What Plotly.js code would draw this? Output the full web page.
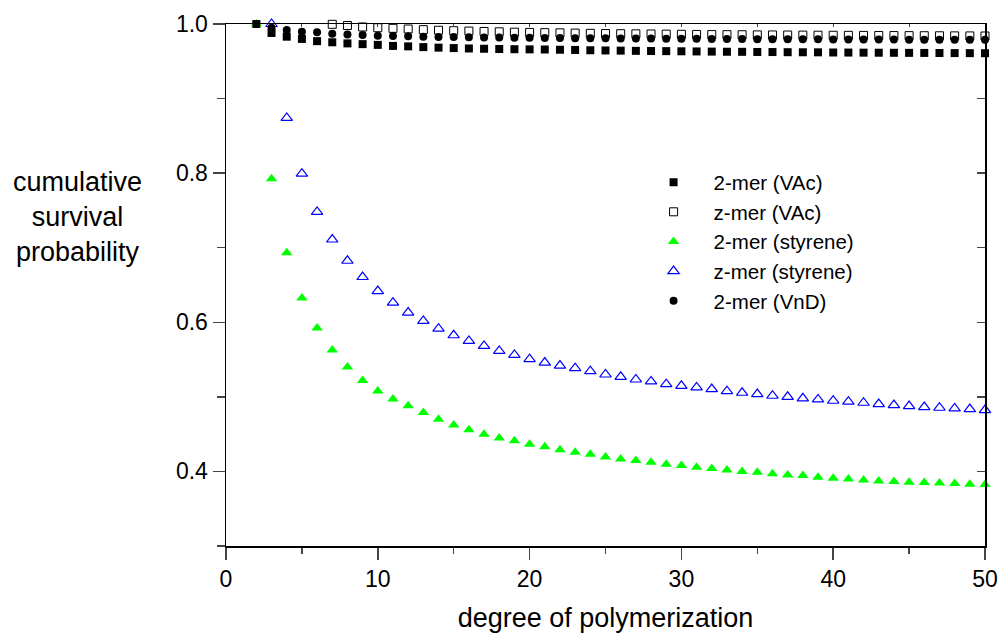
<!DOCTYPE html>
<html>
<head>
<meta charset="utf-8">
<script src="https://cdn.plot.ly/plotly-3.0.1.min.js"></script>
<style>html,body{margin:0;padding:0;background:#fff;}#chart{width:998px;height:633px;}</style>
</head>
<body>
<div id="chart"></div>
<script>
// degree of polymerization
const xFrom2 = [2,3,4,5,6,7,8,9,10,11,12,13,14,15,16,17,18,19,20,21,22,23,24,25,26,27,28,29,30,31,32,33,34,35,36,37,38,39,40,41,42,43,44,45,46,47,48,49,50];
const xFrom3 = xFrom2.slice(1);
const xFrom7 = xFrom2.slice(5);

const twoMerVAc = [1.000,0.988,0.983,0.980,0.977,0.9755,0.974,0.973,0.972,0.9706,0.970,0.9690,0.9683,0.9677,0.9672,0.9668,0.9665,0.9662,0.9660,0.9658,0.9655,0.9652,0.9648,0.9645,0.9643,0.9640,0.9638,0.9636,0.9634,0.9632,0.9630,0.9628,0.9627,0.9625,0.9624,0.9622,0.9621,0.9620,0.9618,0.9617,0.9616,0.9615,0.9614,0.9613,0.9612,0.9611,0.9610,0.9609,0.9608];

const zMerVAc = [0.9996,0.998,0.996,0.995,0.9942,0.9933,0.9924,0.9916,0.991,0.9905,0.990,0.9895,0.989,0.9887,0.9884,0.9881,0.9878,0.9875,0.9872,0.987,0.9868,0.9866,0.9864,0.9862,0.986,0.9858,0.9857,0.9856,0.9854,0.9853,0.9852,0.9851,0.985,0.9849,0.9848,0.9847,0.9846,0.9845,0.9844,0.9843,0.9842,0.9841,0.984,0.9839];

const twoMerStyrene = [1.0,0.7926,0.6932,0.6326,0.5924,0.563,0.540,0.522,0.508,0.497,0.488,0.479,0.470,0.4622,0.456,0.450,0.4448,0.4412,0.4363,0.4332,0.4292,0.4256,0.423,0.4194,0.4167,0.4145,0.4123,0.4096,0.4078,0.4056,0.4038,0.402,0.3998,0.399,0.397,0.3953,0.3944,0.3922,0.3909,0.39,0.3886,0.3873,0.3864,0.3855,0.385,0.3846,0.3837,0.3829,0.3824];

const zMerStyrene = [1.0,0.874,0.7993,0.748,0.711,0.6825,0.6607,0.6419,0.6263,0.613,0.6018,0.5915,0.5826,0.575,0.5683,0.5616,0.5563,0.5505,0.546,0.542,0.5385,0.5344,0.530,0.5269,0.5233,0.5207,0.517,0.5148,0.5126,0.5104,0.5077,0.5055,0.5037,0.5015,0.5001,0.498,0.4966,0.4948,0.4935,0.4921,0.4903,0.489,0.4876,0.4863,0.4854,0.4845,0.4836,0.4823];

const twoMerVnD = [1.0,0.995,0.992,0.9897,0.9888,0.987,0.986,0.9853,0.9844,0.984,0.9835,0.983,0.9827,0.9824,0.9822,0.982,0.9818,0.9816,0.9814,0.9812,0.9811,0.981,0.9809,0.9808,0.9806,0.9805,0.9804,0.9803,0.9802,0.9801,0.98,0.9799,0.9798,0.9797,0.9796,0.9795,0.9795,0.9794,0.9793,0.9793,0.9792,0.9791,0.9791,0.979,0.979,0.9789,0.9789,0.9788,0.9788];

const seriesNames = ['2-mer (VAc)','z-mer (VAc)','2-mer (styrene)','z-mer (styrene)','2-mer (VnD)'];
const xTickVals = [0,10,20,30,40,50];
const yTickVals = [0.4,0.6,0.8,1.0];

const FONT = '"Liberation Sans", Arial, Helvetica, sans-serif';

const traces = [
  {x: xFrom2, y: twoMerVAc, name: seriesNames[0], type: 'scatter', mode: 'markers', cliponaxis: false,
   marker: {symbol: 'square', size: 8, color: '#000000', line: {width: 0}}},
  {x: xFrom7, y: zMerVAc, name: seriesNames[1], type: 'scatter', mode: 'markers', cliponaxis: false,
   marker: {symbol: 'square-open', size: 8, color: '#000000', line: {width: 1, color: '#000000'}}},
  {x: xFrom2, y: twoMerStyrene, name: seriesNames[2], type: 'scatter', mode: 'markers', cliponaxis: false,
   marker: {symbol: 'triangle-up', size: 10, color: '#00ff00', line: {width: 0}}},
  {x: xFrom3, y: zMerStyrene, name: seriesNames[3], type: 'scatter', mode: 'markers', cliponaxis: false,
   marker: {symbol: 'triangle-up-open', size: 10, color: '#0000ff', line: {width: 1.2, color: '#0000ff'}}},
  {x: xFrom2, y: twoMerVnD, name: seriesNames[4], type: 'scatter', mode: 'markers', cliponaxis: false,
   marker: {symbol: 'circle', size: 8, color: '#000000', line: {width: 0}}},
  {x: [], y: [], xaxis: 'x2', yaxis: 'y2', showlegend: false, hoverinfo: 'skip', type: 'scatter', mode: 'markers'}
];

const layout = {
  width: 998, height: 633,
  margin: {l: 226, r: 13, t: 24, b: 87},
  paper_bgcolor: '#ffffff', plot_bgcolor: '#ffffff',
  font: {family: FONT, color: '#000000', size: 20},
  showlegend: true,
  legend: {x: 0.537, y: 0.735, xanchor: 'left', yanchor: 'top', bgcolor: 'rgba(0,0,0,0)', itemwidth: 70,
           font: {family: FONT, size: 20.5, color: '#000000'}},
  xaxis: {range: [0, 50], tickvals: xTickVals, ticks: 'outside', ticklen: 12, tickwidth: 1.5,
          showline: true, linewidth: 1.5, linecolor: '#000', showgrid: false, zeroline: false,
          tickfont: {family: FONT, size: 23, color: '#000'},
          minor: {dtick: 5, ticks: 'outside', ticklen: 6, tickwidth: 1.5, showgrid: false},
          title: {text: 'degree of polymerization', font: {family: FONT, size: 27, color: '#000'}, standoff: 25}},
  yaxis: {range: [0.3, 1.0], tickvals: yTickVals, tickformat: '.1f', ticks: 'outside', ticklen: 12, tickwidth: 1.5,
          showline: true, linewidth: 1.5, linecolor: '#000', showgrid: false, zeroline: false,
          tickfont: {family: FONT, size: 23, color: '#000'},
          minor: {dtick: 0.1, ticks: 'outside', ticklen: 8, tickwidth: 1.5, showgrid: false}},
  xaxis2: {overlaying: 'x', side: 'top', anchor: 'y', range: [0, 50], dtick: 5, ticks: 'inside', ticklen: 3, tickwidth: 1,
           showline: true, linewidth: 1.5, linecolor: '#000', showgrid: false, zeroline: false, showticklabels: false},
  yaxis2: {overlaying: 'y', side: 'right', anchor: 'x', range: [0.3, 1.0], dtick: 0.1, tick0: 0, ticks: 'inside', ticklen: 8, tickwidth: 1.5,
           showline: true, linewidth: 1.5, linecolor: '#000', showgrid: false, zeroline: false, showticklabels: false},
  annotations: [
    {text: 'cumulative<br>survival<br>probability', xref: 'paper', yref: 'paper', x: -0.196, y: 0.63,
     xanchor: 'center', yanchor: 'middle', showarrow: false, align: 'center',
     font: {family: FONT, size: 27, color: '#000'}}
  ]
};

Plotly.newPlot('chart', traces, layout, {displayModeBar: false, staticPlot: true});
</script>
</body>
</html>
